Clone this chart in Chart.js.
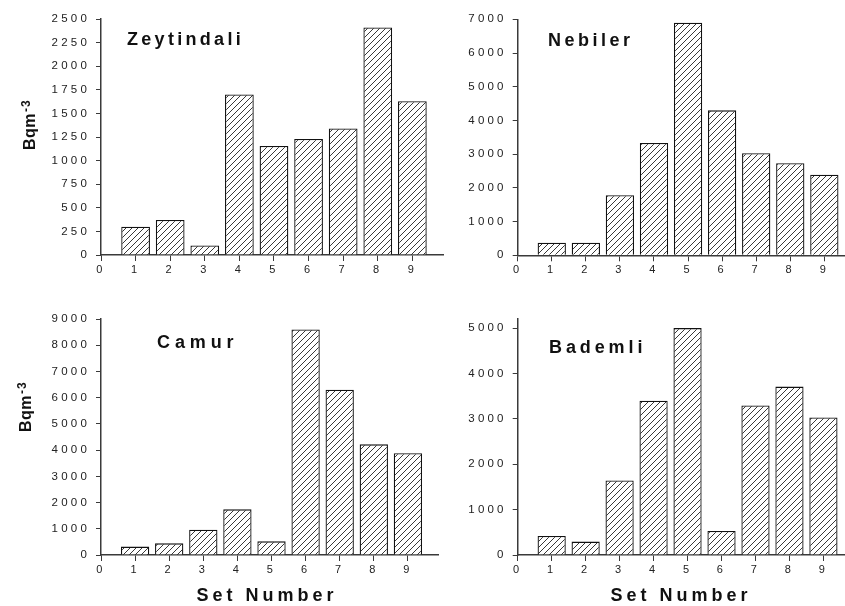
<!DOCTYPE html>
<html><head><meta charset="utf-8">
<script src="https://cdn.jsdelivr.net/npm/chart.js@4.4.1/dist/chart.umd.min.js"></script>
<style>
html,body{margin:0;padding:0;background:#fff;overflow:hidden;width:845px;height:606px;position:relative}
canvas{position:absolute;left:0;top:0}
</style></head><body>
<canvas id="c1" width="900" height="606"></canvas>
<canvas id="c2" width="900" height="606"></canvas>
<canvas id="c3" width="900" height="606"></canvas>
<canvas id="c4" width="900" height="606"></canvas>
<script>
// ---- data ----
const setNumbers = [1, 2, 3, 4, 5, 6, 7, 8, 9];
const xTickLabels = ['0', '1', '2', '3', '4', '5', '6', '7', '8', '9'];
const zeytindali = [300, 370, 100, 1700, 1155, 1230, 1340, 2410, 1630];
const nebiler    = [375, 375, 1780, 3330, 6900, 4300, 3025, 2730, 2390];
const camur      = [320, 445, 965, 1740, 520, 8600, 6300, 4220, 3880];
const bademli    = [420, 295, 1640, 3400, 5000, 530, 3295, 3710, 3030];
const yTicksZeytindali = [0, 250, 500, 750, 1000, 1250, 1500, 1750, 2000, 2250, 2500];
const yTicksNebiler    = [0, 1000, 2000, 3000, 4000, 5000, 6000, 7000];
const yTicksCamur      = [0, 1000, 2000, 3000, 4000, 5000, 6000, 7000, 8000, 9000];
const yTicksBademli    = [0, 1000, 2000, 3000, 4000, 5000];
const panelNames = ['Zeytindali', 'Nebiler', 'Camur', 'Bademli'];
const yTitleMain = 'Bqm';
const yTitleSup = '-3';
const xTitle = 'Set Number';

const FONT = '"Liberation Sans", Arial, Helvetica, sans-serif';

// hatch pattern
function makeHatch() {
  const c = document.createElement('canvas');
  c.width = 6; c.height = 6;
  const g = c.getContext('2d');
  g.fillStyle = '#fff'; g.fillRect(0, 0, 6, 6);
  g.strokeStyle = '#222'; g.lineWidth = 0.9;
  g.beginPath();
  g.moveTo(-1, 7); g.lineTo(7, -1);
  g.moveTo(-1, 1); g.lineTo(1, -1);
  g.moveTo(5, 7); g.lineTo(7, 5);
  g.stroke();
  return c;
}
const hatchCanvas = makeHatch();

const decor = {
  id: 'decor',
  beforeDraw(chart) { chart.ctx.letterSpacing = '3.2px'; },
  beforeDatasetsDraw(chart) { chart.ctx.letterSpacing = '0px'; },
  afterDraw(chart) {
    const o = chart.options.plugins.decor;
    const ctx = chart.ctx;
    ctx.save();
    ctx.fillStyle = '#111';
    ctx.textAlign = 'left';
    ctx.textBaseline = 'alphabetic';
    ctx.font = 'bold 18px ' + FONT;
    ctx.letterSpacing = o.nameSpacing + 'px';
    ctx.fillText(o.name, o.nameX, o.nameY);
    if (o.showX) {
      ctx.letterSpacing = '4px';
      const w = ctx.measureText(xTitle).width - 4;
      ctx.fillText(xTitle, o.xTitleX - w / 2, o.xTitleY);
    }
    if (o.showY) {
      ctx.translate(o.yTitleX, o.yTitleY);
      ctx.rotate(-Math.PI / 2);
      ctx.font = 'bold 16px ' + FONT;
      ctx.letterSpacing = '0.5px';
      ctx.fillText(yTitleMain, 0, 0);
      const w = ctx.measureText(yTitleMain).width;
      ctx.font = 'bold 12px ' + FONT;
      ctx.letterSpacing = '1px';
      ctx.fillText(yTitleSup, w + 1, -5);
    }
    ctx.restore();
  }
};

const panels = [
  { id: 'c1', values: zeytindali, yMax: 2500, yTicks: yTicksZeytindali,
    area: { l: 101, r: 443.5, t: 19, b: 255 },
    name: panelNames[0], nameX: 127, nameY: 45, nameSpacing: 3.3,
    showY: true, yTitleX: 35, yTitleY: 150, showX: false },
  { id: 'c2', values: nebiler, yMax: 7000, yTicks: yTicksNebiler,
    area: { l: 517.7, r: 855, t: 19.3, b: 255.3 },
    name: panelNames[1], nameX: 548, nameY: 46, nameSpacing: 3.5,
    showY: false, showX: false },
  { id: 'c3', values: camur, yMax: 9000, yTicks: yTicksCamur,
    area: { l: 101, r: 438.6, t: 319, b: 555 },
    name: panelNames[2], nameX: 157, nameY: 348, nameSpacing: 4.9,
    showY: true, yTitleX: 31, yTitleY: 432, showX: true, xTitleX: 265, xTitleY: 601 },
  { id: 'c4', values: bademli, yMax: 5200, yTicks: yTicksBademli,
    area: { l: 517.7, r: 854, t: 319, b: 555 },
    name: panelNames[3], nameX: 549, nameY: 353, nameSpacing: 3.9,
    showY: false, showX: true, xTitleX: 679, xTitleY: 601 }
];

const AXIS = '#3a3a3a';
const YW = 60, XH = 30, CW = 900, CH = 606;

panels.forEach(p => {
  const ctx = document.getElementById(p.id).getContext('2d');
  const pattern = ctx.createPattern(hatchCanvas, 'repeat');
  new Chart(ctx, {
    type: 'bar',
    data: {
      datasets: [{
        data: setNumbers.map((n, i) => ({ x: n, y: p.values[i] })),
        backgroundColor: pattern,
        borderColor: '#111',
        borderWidth: 1.3,
        borderSkipped: 'start',
        barPercentage: 0.83,
        categoryPercentage: 1.0
      }]
    },
    options: {
      responsive: false,
      animation: false,
      events: [],
      layout: { padding: { left: p.area.l - YW, top: p.area.t, right: CW - p.area.r, bottom: CH - p.area.b - XH } },
      plugins: { legend: { display: false }, tooltip: { enabled: false }, decor: p },
      scales: {
        x: {
          type: 'linear', min: 0, max: 9.9, offset: false, z: 1,
          afterBuildTicks: s => { s.ticks = xTickLabels.map((_, i) => ({ value: i })); },
          afterFit: s => { s.height = XH; },
          ticks: { color: '#222', padding: 2, font: { family: FONT, size: 11 },
                   callback: v => xTickLabels[v], maxRotation: 0, autoSkip: false },
          grid: { offset: false, drawOnChartArea: false, drawTicks: true, tickLength: 6, color: AXIS, lineWidth: 1 },
          border: { display: true, color: AXIS, width: 1.5 }
        },
        y: {
          type: 'linear', min: 0, max: p.yMax,
          afterBuildTicks: s => { s.ticks = p.yTicks.map(v => ({ value: v })); },
          afterFit: s => { s.width = YW; },
          ticks: { color: '#222', padding: 6, font: { family: FONT, size: 11.5 },
                   callback: v => String(v), autoSkip: false },
          grid: { drawOnChartArea: false, drawTicks: true, tickLength: 5, color: AXIS, lineWidth: 1 },
          border: { display: true, color: AXIS, width: 1.5 }
        }
      }
    },
    plugins: [decor]
  });
});
</script>
</body></html>
